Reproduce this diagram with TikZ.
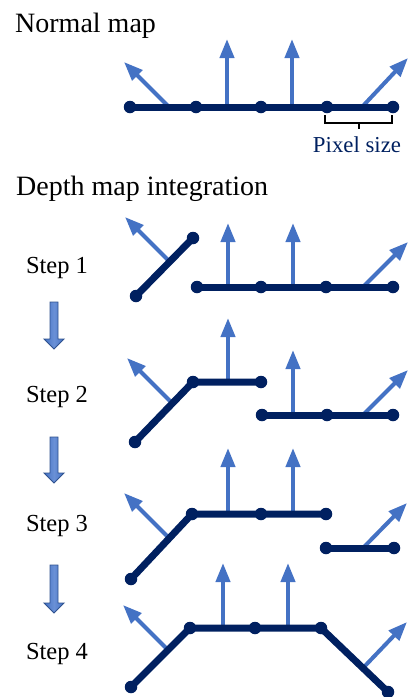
\documentclass[tikz,border=0pt]{standalone}
\usepackage{fontspec}
\setmainfont{Liberation Serif}
\usetikzlibrary{arrows.meta}
\definecolor{navy}{HTML}{002060}
\definecolor{nblue}{HTML}{4472C4}
\definecolor{nblueedge}{HTML}{2F528F}
\definecolor{nbluelight}{HTML}{6A90D6}
\tikzset{
  seg/.style={draw=navy, line width=7pt, line join=round},
  dot/.style={circle, fill=navy, minimum size=12.5pt, inner sep=0pt},
  nrm/.style={draw=nblue, line width=4pt, -{Triangle[length=19pt,width=14pt]}},
  heading/.style={anchor=base west, inner sep=0pt, font=\fontsize{28}{30}\selectfont},
  steplabel/.style={anchor=base, inner sep=0pt, font=\fontsize{24.5}{26}\selectfont},
  blockarrow/.style={draw=nblueedge, line width=0.9pt, line join=miter,
    left color=nblue, right color=nblue, middle color=nbluelight},
}
\begin{document}
\begin{tikzpicture}[x=1pt, y=-1pt]
\useasboundingbox (0,0) rectangle (409,697);

% ---------- headings ----------
\node[heading] (tnormal) at (15,32) {Normal map};
\node[heading] (tdepth) at (16,195) {Depth map integration};

% ---------- normal map ----------
\coordinate (na0) at (169,107); \coordinate (na1) at (124,62);
\coordinate (nb0) at (227,107); \coordinate (nb1) at (227,39);
\coordinate (nc0) at (292,107); \coordinate (nc1) at (292,39);
\coordinate (nd0) at (362,107); \coordinate (nd1) at (408,58);
\draw[nrm] (na0) -- (na1);
\draw[nrm] (nb0) -- (nb1);
\draw[nrm] (nc0) -- (nc1);
\draw[nrm] (nd0) -- (nd1);
\coordinate (n1) at (130,107);
\coordinate (n2) at (196,107);
\coordinate (n3) at (261,107);
\coordinate (n4) at (327,107);
\coordinate (n5) at (393,107);
\draw[seg] (n1) -- (n5);
\foreach \p in {n1,n2,n3,n4,n5} \node[dot] (d\p) at (\p) {};
% pixel-size bracket
\draw[black, line width=1.6pt] (325,115) -- (325,123) -- (392,123) -- (392,115)
  (359,123) -- (359,129);
\node[anchor=base, inner sep=0pt, text=navy, font=\fontsize{22.8}{24}\selectfont]
  (tpix) at (357,152) {Pixel size};

% ---------- step labels ----------
\node[steplabel] (s1) at (57,273) {Step 1};
\node[steplabel] (s2) at (57,402) {Step 2};
\node[steplabel] (s3) at (57,531) {Step 3};
\node[steplabel] (s4) at (57,659) {Step 4};

% block arrows between the steps
\foreach \t/\b in {302/349, 437/483, 565/613}{
  \draw[blockarrow] (50,\t) -- (58,\t) -- (58,\b-10) -- (64,\b-10) -- (54,\b)
    -- (44,\b-10) -- (50,\b-10) -- cycle;
}

% ---------- step 1 ----------
\draw[nrm] (170,262) -- (125,217);
\draw[nrm] (228,287) -- (228,223);
\draw[nrm] (293,287) -- (293,223);
\draw[nrm] (363,287) -- (408,242);
\coordinate (a1) at (136,296); \coordinate (a2) at (193,238);
\coordinate (b1) at (197,287); \coordinate (b2) at (261,287);
\coordinate (b3) at (326,287); \coordinate (b4) at (393,287);
\draw[seg] (a1) -- (a2);
\draw[seg] (b1) -- (b4);
\foreach \p in {a1,a2,b1,b2,b3,b4} \node[dot] (s1\p) at (\p) {};

% ---------- step 2 ----------
\draw[nrm] (172,403) -- (127,358);
\draw[nrm] (228,382) -- (228,318);
\draw[nrm] (293,415) -- (293,350);
\draw[nrm] (363,415) -- (408,370);
\coordinate (c1) at (135,442); \coordinate (c2) at (193,382);
\coordinate (c3) at (261,382);
\coordinate (e1) at (262,415); \coordinate (e2) at (327,415);
\coordinate (e3) at (393,415);
\draw[seg] (c1) -- (c2) -- (c3);
\draw[seg] (e1) -- (e3);
\foreach \p in {c1,c2,c3,e1,e2,e3} \node[dot] (s2\p) at (\p) {};

% ---------- step 3 ----------
\draw[nrm] (169,538) -- (124,493);
\draw[nrm] (228,514) -- (228,448);
\draw[nrm] (293,514) -- (293,448);
\draw[nrm] (363,548) -- (407,503);
\coordinate (f1) at (131,579); \coordinate (f2) at (192,514);
\coordinate (f3) at (261,514); \coordinate (f4) at (326,514);
\coordinate (g1) at (326,548); \coordinate (g2) at (394,548);
\draw[seg] (f1) -- (f2) -- (f4);
\draw[seg] (g1) -- (g2);
\foreach \p in {f1,f2,f3,f4,g1,g2} \node[dot] (s3\p) at (\p) {};

% ---------- step 4 ----------
\draw[nrm] (168,650) -- (123,605);
\draw[nrm] (223,628) -- (223,563);
\draw[nrm] (288,628) -- (288,563);
\draw[nrm] (363,668) -- (407,622);
\coordinate (h1) at (131,687); \coordinate (h2) at (190,628);
\coordinate (h3) at (255,628); \coordinate (h4) at (321,628);
\coordinate (h5) at (388,692);
\draw[seg] (h1) -- (h2) -- (h4) -- (h5);
\foreach \p in {h1,h2,h3,h4,h5} \node[dot] (s4\p) at (\p) {};
\end{tikzpicture}
\end{document}
